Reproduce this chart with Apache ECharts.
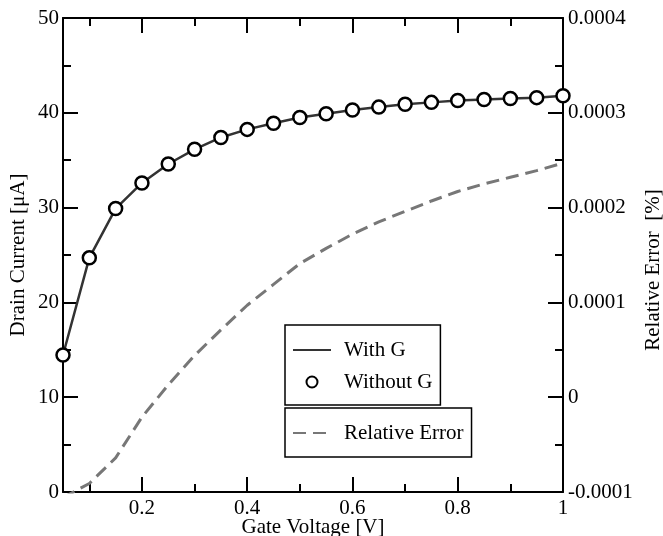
<!DOCTYPE html>
<html><head><meta charset="utf-8">
<script src="https://cdn.jsdelivr.net/npm/echarts@6/dist/echarts.min.js"></script>
<style>html,body{margin:0;padding:0;background:#fff}#c{width:663px;height:536px}</style>
</head><body><div id="c"></div>
<script>
// ---- data ----
const gateVoltage = [0.05,0.10,0.15,0.20,0.25,0.30,0.35,0.40,0.45,0.50,0.55,0.60,0.65,0.70,0.75,0.80,0.85,0.90,0.95,1.00];
const withG      = [14.45,24.7,29.9,32.6,34.6,36.15,37.4,38.25,38.9,39.5,39.9,40.3,40.6,40.9,41.1,41.3,41.4,41.5,41.6,41.8];
const withoutG   = [14.45,24.7,29.9,32.6,34.6,36.15,37.4,38.25,38.9,39.5,39.9,40.3,40.6,40.9,41.1,41.3,41.4,41.5,41.6,41.8];
const relError   = [-0.000106,-0.000091,-0.000064,-0.000021,0.000013,0.000044,0.000071,0.000097,0.000119,0.000141,0.000157,0.000172,0.000185,0.000196,0.000207,0.000217,0.000225,0.000232,0.000239,0.000247];
const xMajorTicks = [0.2,0.4,0.6,0.8,1];
const xMinorTicks = [0.1,0.3,0.5,0.7,0.9];
const leftMajorTicks = [0,10,20,30,40,50];
const leftMinorTicks = [5,15,25,35,45];
const rightMajorTicks = [-0.0001,0,0.0001,0.0002,0.0003,0.0004];
const rightMinorTicks = [-0.00005,0.00005,0.00015,0.00025,0.00035];
const seriesNames = ['With G','Without G','Relative Error'];
const axisTitles = {x:'Gate Voltage [V]', left:'Drain Current [\u03bcA]', right:'Relative Error  [%]'};

const FONT = "'Liberation Serif','Times New Roman',serif";
const pairs = (ys) => gateVoltage.map((x,i)=>[x, ys[i]]);

function axis(base, ticks, len, withLine, labels, extra) {
  return Object.assign({
    type:'value', gridIndex:0,
    splitLine:{show:false},
    nameMoveOverlap:false,
    axisLine:{show:withLine, onZero:false, lineStyle:{color:'#000', width:2}},
    axisTick:{show:true, inside:true, length:len, customValues:ticks, lineStyle:{color:'#000', width:2}},
    axisLabel: labels ? Object.assign({show:true, customValues:labels, color:'#000', fontFamily:FONT, fontSize:21}, extra||{}) : {show:false},
    axisPointer:{show:false}
  }, base);
}

const xBase = {min:0.05, max:1};
const yLBase = {min:0, max:50};
const yRBase = {min:-0.0001, max:0.0004};

const legendCommon = {orient:'vertical', left:285, itemGap:10, itemWidth:38, itemHeight:11,
  borderColor:'#000', borderWidth:1.5, backgroundColor:'#fff', borderRadius:0,
  textStyle:{color:'#000', fontFamily:FONT, fontSize:21, lineHeight:22, padding:[0,0,0,8]}};

const chart = echarts.init(document.getElementById('c'), null, {renderer:'canvas'});
chart.setOption({
  animation:false,
  backgroundColor:'#fff',
  grid:{left:63, right:100, top:18, bottom:44, containLabel:false, outerBoundsMode:'none'},
  xAxis:[
    axis(Object.assign({position:'bottom', name:axisTitles.x, nameLocation:'middle', nameGap:25,
      nameTextStyle:{color:'#000', fontFamily:FONT, fontSize:21}}, xBase), xMajorTicks, 15, true, xMajorTicks,
      {margin:6, formatter:(v)=>String(+v.toFixed(2))}),
    axis(Object.assign({position:'bottom'}, xBase), xMinorTicks, 8, false, null),
    axis(Object.assign({position:'top'}, xBase), xMajorTicks, 15, true, null),
    axis(Object.assign({position:'top'}, xBase), xMinorTicks, 8, false, null)
  ],
  yAxis:[
    axis(Object.assign({position:'left', name:axisTitles.left, nameLocation:'middle', nameGap:34, nameRotate:90,
      nameTextStyle:{color:'#000', fontFamily:FONT, fontSize:21}}, yLBase), leftMajorTicks, 15, true, leftMajorTicks,
      {margin:4}),
    axis(Object.assign({position:'left'}, yLBase), leftMinorTicks, 8, false, null),
    axis(Object.assign({position:'right', name:axisTitles.right, nameLocation:'middle', nameGap:80, nameRotate:90,
      nameTextStyle:{color:'#000', fontFamily:FONT, fontSize:21, padding:[0,30,0,0]}}, yRBase), rightMajorTicks, 15, true, rightMajorTicks,
      {margin:5, formatter:(v)=> Math.abs(v)<1e-12 ? '0' : v.toFixed(4)}),
    axis(Object.assign({position:'right'}, yRBase), rightMinorTicks, 8, false, null)
  ],
  legend:[
    Object.assign({data:[{name:seriesNames[0], itemStyle:{opacity:0}}, {name:seriesNames[1]}], top:325,
      padding:[14,8,12,7]}, legendCommon),
    Object.assign({data:[{name:seriesNames[2], itemStyle:{opacity:0}}], top:408,
      padding:[14,8,13,7]}, legendCommon)
  ],
  series:[
    {name:seriesNames[0], type:'line', xAxisIndex:0, yAxisIndex:0, data:pairs(withG),
     showSymbol:false, symbol:'none', lineStyle:{color:'#333', width:2.5}, itemStyle:{color:'#333'}, z:2},
    {name:seriesNames[1], type:'scatter', xAxisIndex:0, yAxisIndex:0, data:pairs(withoutG),
     symbol:'circle', symbolSize:13, itemStyle:{color:'#fff', borderColor:'#000', borderWidth:2.5, opacity:1}, z:3},
    {name:seriesNames[2], type:'line', xAxisIndex:0, yAxisIndex:2, data:pairs(relError),
     showSymbol:false, symbol:'none', clip:true, lineStyle:{color:'#777', width:3, type:[13,7]}, itemStyle:{color:'#777'}, z:1}
  ]
});
</script>
</body></html>
